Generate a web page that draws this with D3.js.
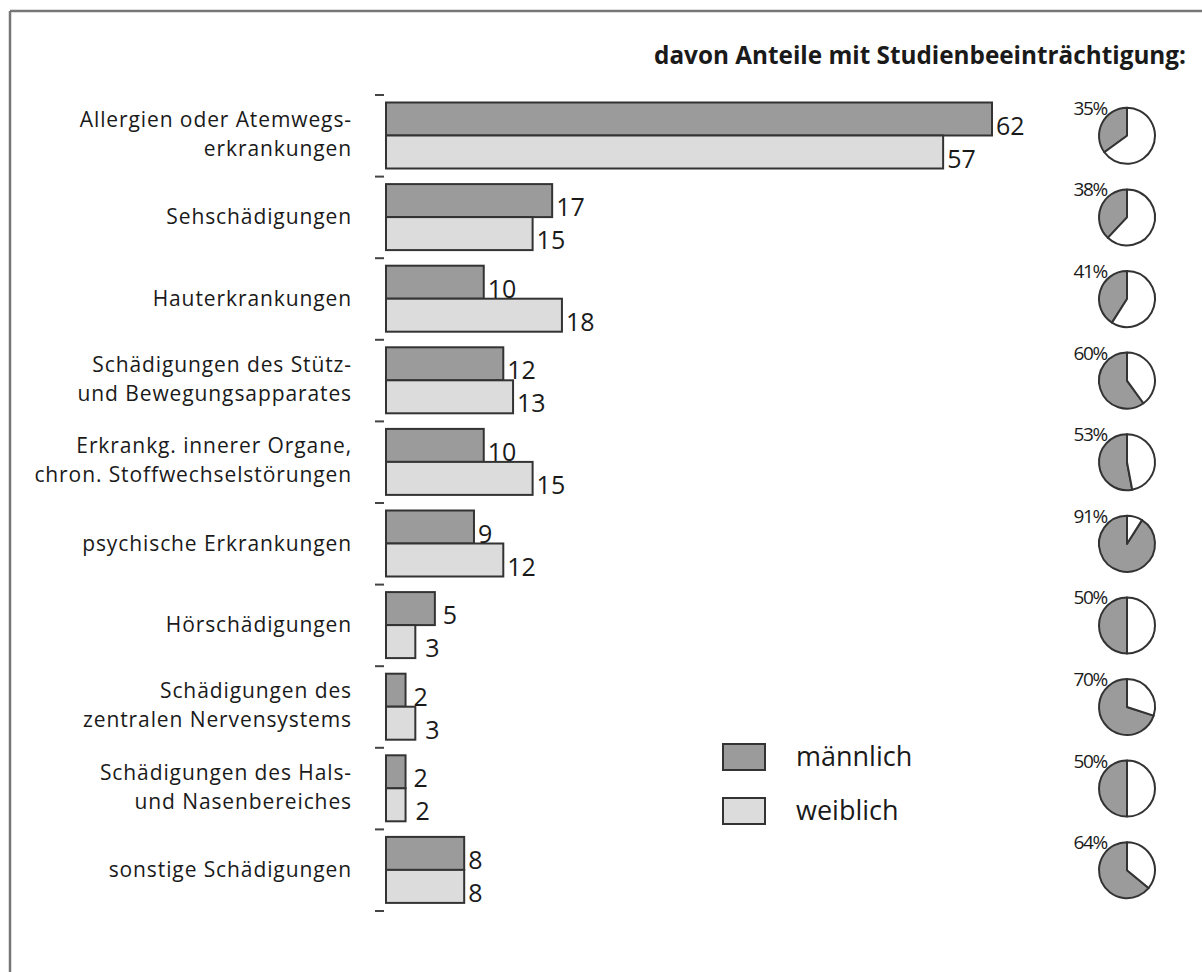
<!DOCTYPE html>
<html>
<head>
<meta charset="utf-8">
<script src="https://cdn.jsdelivr.net/npm/d3@7"></script>
<style>
  html, body { margin: 0; padding: 0; background: #fff; }
  svg { display: block; }
  text { font-family: "Open Sans", "Noto Sans", sans-serif; fill: #1a1a1a; }
</style>
</head>
<body>
<svg id="chart" width="1202" height="972"></svg>
<script>
// ---- data ----
const categories = [
  ["Allergien oder Atemwegs-", "erkrankungen"],
  ["Sehschädigungen"],
  ["Hauterkrankungen"],
  ["Schädigungen des Stütz-", "und Bewegungsapparates"],
  ["Erkrankg. innerer Organe,", "chron. Stoffwechselstörungen"],
  ["psychische Erkrankungen"],
  ["Hörschädigungen"],
  ["Schädigungen des", "zentralen  Nervensystems"],
  ["Schädigungen des Hals-", "und Nasenbereiches"],
  ["sonstige Schädigungen"]
];
const maleValues   = [62, 17, 10, 12, 10, 9, 5, 2, 2, 8];
const femaleValues = [57, 15, 18, 13, 15, 12, 3, 3, 2, 8];
const impairedShare = [35, 38, 41, 60, 53, 91, 50, 70, 50, 64];
const seriesNames = ["männlich", "weiblich"];
const headerText = "davon Anteile mit Studienbeeinträchtigung:";

// ---- layout ----
const svg = d3.select("#chart");
const colMale = "#9b9b9b", colFemale = "#dcdcdc", stroke = "#333";

// frame
svg.append("line").attr("x1", 10).attr("x2", 1202).attr("y1", 11).attr("y2", 11)
  .attr("stroke", "#777").attr("stroke-width", 2.5);
svg.append("line").attr("x1", 10).attr("x2", 10).attr("y1", 11).attr("y2", 972)
  .attr("stroke", "#777").attr("stroke-width", 2.5);

const x = d3.scaleLinear().domain([0, 62]).range([386, 992]);
const y = d3.scaleBand().domain(d3.range(categories.length)).range([95, 911]);
const barH = 33, barPad = 7.5;

// left tick marks
const tickYs = d3.range(categories.length + 1).map(i => 95 + i * y.step());
svg.selectAll("line.tick").data(tickYs).join("line")
  .attr("class", "tick")
  .attr("x1", 375).attr("x2", 384)
  .attr("y1", d => d).attr("y2", d => d)
  .attr("stroke", "#444").attr("stroke-width", 2);

// bars
const rows = categories.map((c, i) => ({ i, m: maleValues[i], f: femaleValues[i] }));
const g = svg.append("g");
g.selectAll("rect.m").data(rows).join("rect")
  .attr("x", x(0)).attr("y", d => y(d.i) + barPad)
  .attr("width", d => x(d.m) - x(0)).attr("height", barH)
  .attr("fill", colMale).attr("stroke", stroke).attr("stroke-width", 2);
g.selectAll("rect.f").data(rows).join("rect")
  .attr("x", x(0)).attr("y", d => y(d.i) + barPad + barH)
  .attr("width", d => x(d.f) - x(0)).attr("height", barH)
  .attr("fill", colFemale).attr("stroke", stroke).attr("stroke-width", 2);

// value labels
g.selectAll("text.vm").data(rows).join("text")
  .attr("x", d => x(d.m) + (d.m < 6 ? 8 : 4)).attr("y", d => y(d.i) + barPad + barH - 1)
  .attr("font-size", 25).text(d => d.m);
g.selectAll("text.vf").data(rows).join("text")
  .attr("x", d => x(d.f) + (d.f < 6 ? 10 : 4)).attr("y", d => y(d.i) + barPad + 2 * barH - 1)
  .attr("font-size", 25).text(d => d.f);

// category labels
categories.forEach((lines, i) => {
  const cy = y(i) + y.bandwidth() / 2;
  const lh = 29;
  const t = svg.append("text").attr("text-anchor", "end").attr("font-size", 21)
    .attr("letter-spacing", 0.9);
  lines.forEach((ln, k) => {
    t.append("tspan").attr("x", 352)
      .attr("y", cy + 7 + (k - (lines.length - 1) / 2) * lh - (lines.length - 1) * 1.5)
      .text(ln);
  });
});

// header
svg.append("text").attr("x", 1186).attr("y", 64).attr("text-anchor", "end")
  .attr("font-size", 24.3).attr("font-weight", "bold").text(headerText);

// pies
const pieR = 28, pieX = 1127;
const arc = d3.arc().innerRadius(0).outerRadius(pieR);
impairedShare.forEach((p, i) => {
  const cy = y(i) + y.bandwidth() / 2;
  const a0 = -p / 100 * 2 * Math.PI;
  const pie = d3.pie().sort(null).startAngle(a0).endAngle(a0 + 2 * Math.PI);
  const pg = svg.append("g").attr("transform", `translate(${pieX},${cy})`);
  pg.selectAll("path").data(pie([p, 100 - p])).join("path")
    .attr("d", arc)
    .attr("fill", (d, k) => k === 0 ? colMale : "#fff")
    .attr("stroke", stroke).attr("stroke-width", 2).attr("stroke-linejoin", "round");
  svg.append("text").attr("x", pieX - 20).attr("y", cy - 21)
    .attr("text-anchor", "end").attr("font-size", 19).attr("letter-spacing", -1.3)
    .text(p + "%");
});

// legend
const legY = [744, 798];
seriesNames.forEach((name, k) => {
  svg.append("rect").attr("x", 723).attr("y", legY[k]).attr("width", 42).attr("height", 26)
    .attr("fill", k === 0 ? colMale : colFemale).attr("stroke", stroke).attr("stroke-width", 2);
  svg.append("text").attr("x", 796).attr("y", legY[k] + 22).attr("font-size", 27).text(name);
});
</script>
</body>
</html>
